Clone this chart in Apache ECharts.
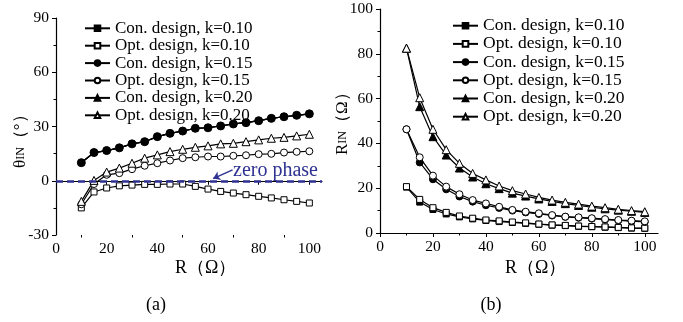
<!DOCTYPE html>
<html>
<head>
<meta charset="utf-8">
<script src="https://cdn.jsdelivr.net/npm/echarts@6/dist/echarts.min.js"></script>
<style>
  html, body { margin: 0; padding: 0; background: #fff; }
  #main { width: 683px; height: 322px; }
</style>
</head>
<body>
<div id="main"></div>
<script>
// load resistance R (Ω)
const rValues = [10, 15, 20, 25, 30, 35, 40, 45, 50, 55, 60, 65, 70, 75, 80, 85, 90, 95, 100];

// (a) input phase θIN (°) -- the three conventional designs overlap
const conPhase10 = [10, 15.6, 16.7, 18.2, 20.4, 21.6, 24.4, 26.2, 27.5, 29, 29.3, 30.3, 31.4, 32.1, 33.2, 34.5, 35.4, 36.2, 37];
const optPhase10 = [-15, -6.2, -4, -2.8, -2.4, -2, -2, -1.8, -1.8, -3.1, -4.6, -5.9, -6.8, -7.7, -8.6, -9.5, -10.5, -11.4, -12.3];
const conPhase15 = [10, 15.6, 16.7, 18.2, 20.4, 21.6, 24.4, 26.2, 27.5, 29, 29.3, 30.3, 31.4, 32.1, 33.2, 34.5, 35.4, 36.2, 37];
const optPhase15 = [-13, -1.8, 3.3, 4.2, 6.4, 8.3, 9.7, 11.2, 12.5, 13, 13.4, 13.4, 13.8, 14.1, 14.7, 14.9, 15.6, 16, 16.3];
const conPhase20 = [10, 15.6, 16.7, 18.2, 20.4, 21.6, 24.4, 26.2, 27.5, 29, 29.3, 30.3, 31.4, 32.1, 33.2, 34.5, 35.4, 36.2, 37];
const optPhase20 = [-11.4, 0.2, 4.8, 7, 9.7, 12.5, 14.3, 16.1, 17.4, 18.5, 19.3, 20.4, 20.7, 21.6, 22.6, 23.5, 24, 24.8, 25.7];

// (b) input resistance RIN (Ω)
const conR10 = [20.5, 13.8, 10.5, 8.5, 7.2, 6.3, 5.6, 5.1, 4.7, 4.3, 3.9, 3.5, 3.3, 3, 2.8, 2.6, 2.4, 2.2, 2.1];
const optR10 = [20.7, 15, 11.3, 9.2, 7.6, 6.6, 5.8, 5.4, 4.9, 4.5, 4, 3.6, 3.4, 3.1, 2.9, 2.7, 2.5, 2.3, 2.2];
const conR15 = [46.3, 31.5, 24, 19.5, 16.3, 14, 12.4, 11.2, 10, 9.2, 8.5, 7.8, 7.2, 6.8, 6.4, 6, 5.6, 5.3, 5];
const optR15 = [46.3, 33.8, 25.6, 20.7, 17.3, 14.7, 13.2, 11.7, 10.3, 9.5, 8.8, 8, 7.3, 7, 6.6, 6.2, 5.8, 5.5, 5.2];
const conR20 = [82.5, 56.4, 43, 34.8, 29, 25, 22, 19.8, 17.8, 16.5, 15.2, 14.1, 13.1, 12.3, 11.5, 10.8, 10.2, 9.7, 9.2];
const optR20 = [82.5, 60.4, 46.3, 37.2, 31.1, 26.6, 23.7, 21, 18.9, 17.4, 15.9, 14.7, 13.7, 12.9, 12, 11.3, 10.6, 10, 9.5];

const seriesNames = ['Con. design, k=0.10', 'Opt. design, k=0.10', 'Con. design, k=0.15',
  'Opt. design, k=0.15', 'Con. design, k=0.20', 'Opt. design, k=0.20'];
const xMajorTicks = [0, 20, 40, 60, 80, 100];
const xMinorTicks = [10, 30, 50, 70, 90];
const zeroPhase = 0;

const FONT = '"Liberation Serif", "Times New Roman", serif';
const ZERO_BLUE = '#2e3192';

// marker look per series, same order as seriesNames
const markers = [
  { symbol: 'rect', size: 6, filled: true },
  { symbol: 'rect', size: 6, filled: false },
  { symbol: 'circle', size: 7, filled: true },
  { symbol: 'circle', size: 7, filled: false },
  { symbol: 'triangle', size: 8, filled: true },
  { symbol: 'triangle', size: 8, filled: false }
];

function makeSeries(idx, values, axisIndex, extra) {
  const m = markers[idx];
  return Object.assign({
    name: seriesNames[idx],
    type: 'line',
    xAxisIndex: axisIndex * 2,
    yAxisIndex: axisIndex,
    data: rValues.map((r, i) => [r, values[i]]),
    symbol: m.symbol,
    symbolSize: m.size,
    showAllSymbol: true,
    animation: false,
    lineStyle: { color: '#000', width: 1.2 },
    itemStyle: m.filled
      ? { color: '#000', borderColor: '#000', borderWidth: 1 }
      : { color: '#fff', borderColor: '#000', borderWidth: 1 }
  }, extra || {});
}

function xAxes(gridIndex) {
  const base = {
    type: 'value', gridIndex: gridIndex, min: 0, max: 105, position: 'bottom',
    splitLine: { show: false }
  };
  return [
    Object.assign({}, base, {
      axisLine: { lineStyle: { color: '#000', width: 1.2 } },
      axisTick: { show: true, length: 4, customValues: xMajorTicks, lineStyle: { color: '#000' } },
      axisLabel: { customValues: xMajorTicks, color: '#000', fontFamily: FONT, fontSize: 15.5, margin: 6 }
    }),
    Object.assign({}, base, {
      axisLine: { show: false },
      axisTick: { show: true, length: 2.5, customValues: xMinorTicks, lineStyle: { color: '#000' } },
      axisLabel: { show: false }
    })
  ];
}

function yAxis(gridIndex, min, max, interval) {
  return {
    type: 'value', gridIndex: gridIndex, min: min, max: max, interval: interval,
    splitLine: { show: false },
    axisLine: { show: true, lineStyle: { color: '#000', width: 1.2 } },
    axisTick: { show: true, length: 4, lineStyle: { color: '#000' } },
    minorTick: { show: true, splitNumber: 2, length: 2.5, lineStyle: { color: '#000' } },
    axisLabel: { color: '#000', fontFamily: FONT, fontSize: 15.5, margin: 7 }
  };
}

function legend(left, top, size, rowH) {
  return {
    orient: 'vertical', left: left, top: top,
    itemWidth: 25, itemHeight: 7, itemGap: 0,
    selectedMode: false,
    data: seriesNames,
    textStyle: { color: '#000', fontFamily: FONT, fontSize: size, lineHeight: rowH }
  };
}

const chart = echarts.init(document.getElementById('main'));

const option = {
  backgroundColor: '#fff',
  animation: false,
  grid: [
    { left: 56, top: 18, width: 266, height: 217 },
    { left: 380, top: 9, width: 278, height: 224 }
  ],
  xAxis: xAxes(0).concat(xAxes(1)),
  yAxis: [yAxis(0, -30, 90, 30), yAxis(1, 0, 100, 20)],
  legend: [legend(79, 14.6, 17, 17.4), legend(447, 11.6, 17.5, 18.2)],
  series: [
    // in (a) the filled circles sit on top of the other two conventional curves
    makeSeries(0, conPhase10, 0, { symbolSize: 5 }),
    makeSeries(1, optPhase10, 0),
    makeSeries(2, conPhase15, 0, { z: 4, symbolSize: 8 }),
    makeSeries(3, optPhase15, 0),
    makeSeries(4, conPhase20, 0, { symbolSize: 5 }),
    makeSeries(5, optPhase20, 0, {
      markLine: {
        silent: true,
        animation: false,
        label: { show: false },
        symbol: ['none', 'none'],
        data: [
          { yAxis: zeroPhase, lineStyle: { color: ZERO_BLUE, type: [7, 4], width: 2.5 } },
          [
            { coord: [69.7, 6], symbol: 'none', lineStyle: { color: ZERO_BLUE, type: 'solid', width: 1.5 } },
            { coord: [62, 1.2], symbol: 'arrow', symbolSize: 7 }
          ]
        ]
      }
    }),
    makeSeries(0, conR10, 1),
    makeSeries(1, optR10, 1),
    makeSeries(2, conR15, 1),
    makeSeries(3, optR15, 1),
    makeSeries(4, conR20, 1),
    makeSeries(5, optR20, 1)
  ],
  graphic: [
    {
      type: 'text', x: 21, y: 168, rotation: Math.PI / 2,
      style: {
        text: '{a|θ}{b|IN}{a|（°）}',
        textVerticalAlign: 'middle', align: 'left',
        rich: {
          a: { fontFamily: FONT, fontSize: 17, fill: '#000' },
          b: { fontFamily: FONT, fontSize: 12, fill: '#000' }
        }
      }
    },
    {
      type: 'text', x: 343, y: 155, rotation: Math.PI / 2,
      style: {
        text: '{a|R}{b|IN}{a|（Ω）}',
        textVerticalAlign: 'middle', align: 'left',
        rich: {
          a: { fontFamily: FONT, fontSize: 17, fill: '#000' },
          b: { fontFamily: FONT, fontSize: 12, fill: '#000' }
        }
      }
    },
    {
      type: 'text', x: 175, y: 268,
      style: { text: 'R（Ω）', font: '18px ' + FONT, fill: '#000', textVerticalAlign: 'middle' }
    },
    {
      type: 'text', x: 505, y: 268,
      style: { text: 'R（Ω）', font: '18px ' + FONT, fill: '#000', textVerticalAlign: 'middle' }
    },
    {
      type: 'text', x: 233, y: 171,
      style: { text: 'zero phase', font: '20px ' + FONT, fill: ZERO_BLUE, textVerticalAlign: 'middle' }
    },
    {
      type: 'text', x: 156, y: 305,
      style: { text: '(a)', font: '18px ' + FONT, fill: '#000', align: 'center', textVerticalAlign: 'middle' }
    },
    {
      type: 'text', x: 491, y: 305,
      style: { text: '(b)', font: '18px ' + FONT, fill: '#000', align: 'center', textVerticalAlign: 'middle' }
    }
  ]
};

chart.setOption(option);
window.addEventListener('resize', () => chart.resize());
</script>
</body>
</html>
